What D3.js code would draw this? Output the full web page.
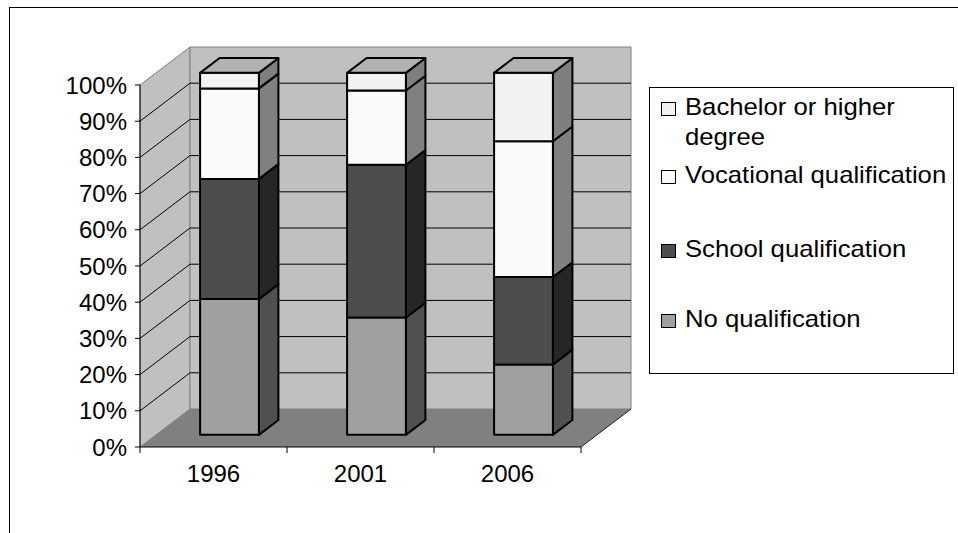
<!DOCTYPE html>
<html>
<head>
<meta charset="utf-8">
<script src="https://cdn.jsdelivr.net/npm/d3@7"></script>
<style>
  html, body { margin: 0; padding: 0; background: #fff; }
  svg { display: block; }
  text { font-family: "Liberation Sans", Arial, sans-serif; fill: #000; }
</style>
</head>
<body>
<div id="chart"></div>
<script>
// data (percent of each year's total)
const years = ['1996', '2001', '2006'];
const seriesNames = ['No qualification', 'School qualification', 'Vocational qualification', 'Bachelor or higher degree'];
const noQualification = [37.5, 32.4, 19.4];
const schoolQualification = [33.2, 42.2, 24.2];
const vocationalQualification = [25.0, 20.5, 37.5];
const bachelorDegree = [4.3, 4.9, 18.9];
const tickLabels = ['0%', '10%', '20%', '30%', '40%', '50%', '60%', '70%', '80%', '90%', '100%'];

// legend order is top to bottom, as in the picture
const legendOrder = [3, 2, 1, 0];
const legendLines = [['Bachelor or higher', 'degree'], ['Vocational qualification'], ['School qualification'], ['No qualification']];

const frontColors = ['#a0a0a0', '#4d4d4d', '#fafafa', '#f2f2f2'];
const sideColors = ['#505050', '#262626', '#808080', '#7f7f7f'];
const topColor = '#b2b2b2';

const W = 958, H = 533;
const svg = d3.select('#chart').append('svg')
  .attr('width', W)
  .attr('height', H);

// outer chart border
svg.append('rect')
  .attr('x', 9.5).attr('y', 7.5)
  .attr('width', 1000).attr('height', 1000)
  .attr('fill', 'none')
  .attr('stroke', '#000');

const table = years.map((yr, i) => ({
  year: yr,
  s0: noQualification[i],
  s1: schoolQualification[i],
  s2: vocationalQualification[i],
  s3: bachelorDegree[i]
}));
const stacked = d3.stack().keys(['s0', 's1', 's2', 's3'])(table);

const x = d3.scaleBand()
  .domain(years)
  .range([140, 581])
  .paddingInner(0.6)
  .paddingOuter(0.3);

const y = d3.scaleLinear()
  .domain([0, 100])
  .range([447, 85]);

// oblique depth vector of the 3d box
const DX = 50, DY = -38;
const barZ0 = 0.32, barZ1 = 0.71;
const P = (px, v, z) => [px + z * DX, y(v) + z * DY];
const poly = pts => 'M' + pts.map(p => p.join(',')).join('L') + 'Z';

const x0 = x.range()[0], x1 = x.range()[1];

// side wall
svg.append('path')
  .attr('d', poly([P(x0, 0, 0), P(x0, 0, 1), P(x0, 100, 1), P(x0, 100, 0)]))
  .attr('fill', '#c0c0c0')
  .attr('stroke', '#808080');

// back wall
svg.append('path')
  .attr('d', poly([P(x0, 0, 1), P(x1, 0, 1), P(x1, 100, 1), P(x0, 100, 1)]))
  .attr('fill', '#c0c0c0')
  .attr('stroke', '#808080');

// floor
svg.append('path')
  .attr('d', poly([P(x0, 0, 0), P(x1, 0, 0), P(x1, 0, 1), P(x0, 0, 1)]))
  .attr('fill', '#808080');
svg.append('line')
  .attr('x1', P(x1, 0, 0)[0]).attr('y1', P(x1, 0, 0)[1])
  .attr('x2', P(x1, 0, 1)[0]).attr('y2', P(x1, 0, 1)[1])
  .attr('stroke', '#222');

// gridlines on the walls
const grid = y.ticks(10).filter(v => v > 0 && v < 100);
grid.forEach(v => {
  const a = P(x0, v, 0), b = P(x0, v, 1), c = P(x1, v, 1);
  svg.append('path')
    .attr('d', `M${a}L${b}L${c}`)
    .attr('fill', 'none')
    .attr('stroke', '#000');
});

// value axis
const yAxis = svg.append('g');
yAxis.append('line')
  .attr('x1', x0).attr('x2', x0)
  .attr('y1', y(0)).attr('y2', y(100))
  .attr('stroke', '#000');
y.ticks(10).forEach((v, i) => {
  yAxis.append('line')
    .attr('x1', x0 - 5).attr('x2', x0)
    .attr('y1', y(v)).attr('y2', y(v))
    .attr('stroke', '#000');
  yAxis.append('text')
    .attr('x', 127)
    .attr('y', y(v) + 8.5)
    .attr('text-anchor', 'end')
    .style('font-size', '24px')
    .text(tickLabels[i]);
});

// category axis
const xAxis = svg.append('g');
xAxis.append('line')
  .attr('x1', x0).attr('x2', x1)
  .attr('y1', y(0)).attr('y2', y(0))
  .attr('stroke', '#000');
d3.range(years.length + 1).forEach(i => {
  const tx = x0 + i * x.step();
  xAxis.append('line')
    .attr('x1', tx).attr('x2', tx)
    .attr('y1', y(0)).attr('y2', y(0) + 6)
    .attr('stroke', '#000');
});
years.forEach(yr => {
  xAxis.append('text')
    .attr('x', x(yr) + x.bandwidth() / 2)
    .attr('y', 482)
    .attr('text-anchor', 'middle')
    .style('font-size', '24px')
    .text(yr);
});

// bars
const bars = svg.append('g');
years.forEach((yr, i) => {
  const bx0 = x(yr), bx1 = x(yr) + x.bandwidth();
  stacked.forEach((layer, s) => {
    const v0 = layer[i][0], v1 = layer[i][1];
    // right side face
    bars.append('path')
      .attr('d', poly([P(bx1, v0, barZ0), P(bx1, v0, barZ1), P(bx1, v1, barZ1), P(bx1, v1, barZ0)]))
      .attr('fill', sideColors[s])
      .attr('stroke', '#000')
      .attr('stroke-width', 2)
      .attr('stroke-linejoin', 'round');
    // front face
    bars.append('path')
      .attr('d', poly([P(bx0, v0, barZ0), P(bx1, v0, barZ0), P(bx1, v1, barZ0), P(bx0, v1, barZ0)]))
      .attr('fill', frontColors[s])
      .attr('stroke', '#000')
      .attr('stroke-width', 2)
      .attr('stroke-linejoin', 'round');
  });
  const top = stacked[stacked.length - 1][i][1];
  bars.append('path')
    .attr('d', poly([P(bx0, top, barZ0), P(bx1, top, barZ0), P(bx1, top, barZ1), P(bx0, top, barZ1)]))
    .attr('fill', topColor)
    .attr('stroke', '#000')
    .attr('stroke-width', 2)
    .attr('stroke-linejoin', 'round');
});

// legend
const legend = svg.append('g');
legend.append('rect')
  .attr('x', 649.5).attr('y', 87.5)
  .attr('width', 304).attr('height', 286)
  .attr('fill', '#fff')
  .attr('stroke', '#000');

const rowBaselines = [115, 183, 257, 327];
legendOrder.forEach((s, r) => {
  const base = rowBaselines[r];
  legend.append('rect')
    .attr('x', 661.5).attr('y', base - 12.5)
    .attr('width', 14).attr('height', 13)
    .attr('fill', frontColors[s])
    .attr('stroke', '#000');
  legendLines[r].forEach((line, k) => {
    legend.append('text')
      .attr('transform', `translate(685,${base + k * 30}) scale(1.07,1)`)
      .style('font-size', '24px')
      .text(line);
  });
});
</script>
</body>
</html>
